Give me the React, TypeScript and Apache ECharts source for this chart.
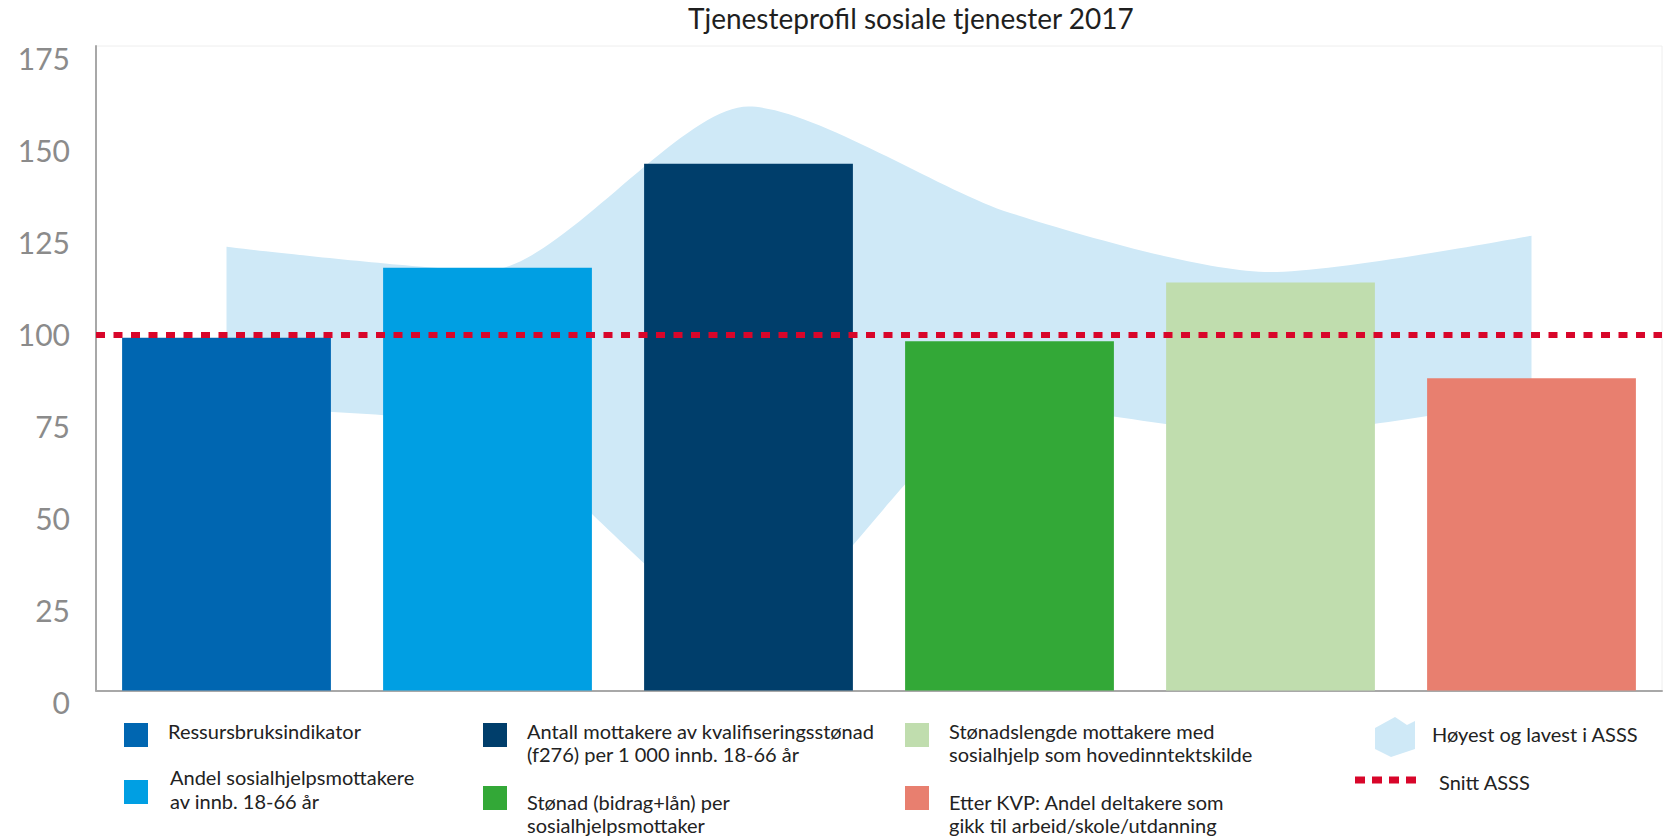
import React, { useEffect, useRef } from 'react';
import * as echarts from 'echarts';

const TITLE = 'Tjenesteprofil sosiale tjenester 2017';
const CATEGORIES = [
  'Ressursbruksindikator',
  'Andel sosialhjelpsmottakere\nav innb. 18-66 år',
  'Antall mottakere av kvalifiseringsstønad\n(f276) per 1 000 innb. 18-66 år',
  'Stønad (bidrag+lån) per\nsosialhjelpsmottaker',
  'Stønadslengde mottakere med\nsosialhjelp som hovedinntektskilde',
  'Etter KVP: Andel deltakere som\ngikk til arbeid/skole/utdanning',
];
const BAR_VALUES = [99.1, 118.7, 147.9, 98.1, 114.6, 87.7];
const BAND_LOW = [79, 72.5, 17, 80, 72, 82];
const BAND_HIGH = [124.6, 118, 164, 134.2, 117.5, 127.7];
const SNITT_ASSS = 100;
const Y_LABEL_MIN = 0;
const Y_LABEL_MAX = 175;
const Y_LABEL_STEP = 25;
const BAND_NAME = 'Høyest og lavest i ASSS';
const SNITT_NAME = 'Snitt ASSS';

const BAR_COLORS = ['#0066b1', '#009fe3', '#003e6b', '#33a837', '#c0ddae', '#e87f6f'];
const BAND_COLOR = '#cfe9f7';
const RED = '#d8062a';
const FONT = 'Lato';
const TEXT_COLOR = '#222222';
const LEGEND_FONT_SIZE = 20;

// legend layout: [boxX, boxY, textX, textCenterY]
const LEGEND_LAYOUT = [
  [124, 723, 168, 731],
  [124, 780, 170, 789],
  [483, 723, 527, 742.5],
  [483, 786, 527, 813.5],
  [905, 723, 949, 742.5],
  [905, 786, 949, 813.5],
];

export default function App() {
  const ref = useRef<HTMLDivElement>(null);
  useEffect(() => {
    if (!ref.current) return;
    const chart = echarts.init(ref.current, undefined, { renderer: 'svg' });

    const barSeries = CATEGORIES.map((name, i) => ({
      type: 'bar',
      name,
      xAxisIndex: 0,
      yAxisIndex: 0,
      barWidth: '80%',
      barGap: '-100%',
      data: BAR_VALUES.map((v, j) => (j === i ? v : null)),
      itemStyle: { color: BAR_COLORS[i] },
      z: 3,
    }));

    const legendGraphics: any[] = [];
    CATEGORIES.forEach((name, i) => {
      const [bx, by, tx, ty] = LEGEND_LAYOUT[i];
      legendGraphics.push({
        type: 'rect',
        shape: { x: bx, y: by, width: 24, height: 24 },
        style: { fill: BAR_COLORS[i] },
      });
      legendGraphics.push({
        type: 'text',
        x: tx,
        y: ty,
        style: {
          text: name,
          fill: TEXT_COLOR,
          fontSize: LEGEND_FONT_SIZE,
          fontFamily: FONT,
          lineHeight: 23.5,
          align: 'left',
          verticalAlign: 'middle',
        },
      });
    });
    legendGraphics.push({
      type: 'polygon',
      shape: {
        points: [
          [1375, 728],
          [1395, 717],
          [1407, 725],
          [1415, 721],
          [1415, 749],
          [1391, 757],
          [1375, 749],
        ],
      },
      style: { fill: BAND_COLOR },
    });
    legendGraphics.push({
      type: 'text',
      x: 1432,
      y: 734,
      style: { text: BAND_NAME, fill: TEXT_COLOR, fontSize: LEGEND_FONT_SIZE, fontFamily: FONT, verticalAlign: 'middle' },
    });
    legendGraphics.push({
      type: 'line',
      shape: { x1: 1355, y1: 780, x2: 1416, y2: 780 },
      style: { stroke: RED, lineWidth: 7, lineDash: [10, 7] },
    });
    legendGraphics.push({
      type: 'text',
      x: 1439,
      y: 782,
      style: { text: SNITT_NAME, fill: TEXT_COLOR, fontSize: LEGEND_FONT_SIZE, fontFamily: FONT, verticalAlign: 'middle' },
    });

    chart.setOption({
      animation: false,
      backgroundColor: '#ffffff',
      title: {
        text: TITLE,
        left: 688,
        top: 4,
        padding: 0,
        textStyle: { fontFamily: FONT, fontSize: 28, fontWeight: 'normal', color: '#1f1f1f' },
      },
      grid: [
        {
          left: 96,
          right: 3,
          top: 46,
          bottom: 145.5,
          show: true,
          borderColor: '#eeeeee',
          borderWidth: 1,
          backgroundColor: 'transparent',
        },
        { left: 96, right: 3, top: 58, bottom: 134 },
      ],
      xAxis: [
        {
          type: 'category',
          gridIndex: 0,
          data: CATEGORIES,
          axisLabel: { show: false },
          axisTick: { show: false },
          axisLine: { lineStyle: { color: '#a8a8a8', width: 2 } },
        },
        { type: 'category', gridIndex: 1, data: CATEGORIES, show: false },
      ],
      yAxis: [
        {
          type: 'value',
          gridIndex: 0,
          min: 0,
          max: 181,
          axisLine: { show: true, lineStyle: { color: '#a8a8a8', width: 2 } },
          axisLabel: { show: false },
          axisTick: { show: false },
          splitLine: { show: false },
        },
        {
          type: 'value',
          gridIndex: 1,
          min: Y_LABEL_MIN,
          max: Y_LABEL_MAX,
          interval: Y_LABEL_STEP,
          axisLine: { show: false },
          axisTick: { show: false },
          splitLine: { show: false },
          axisLabel: { fontSize: 30, color: '#8b8b8b', margin: 26, fontFamily: FONT },
        },
      ],
      series: [
        {
          type: 'line',
          name: 'band-low',
          data: BAND_LOW,
          stack: 'band',
          smooth: 0.25,
          symbol: 'none',
          lineStyle: { width: 0, opacity: 0 },
          silent: true,
          z: 1,
        },
        {
          type: 'line',
          name: BAND_NAME,
          data: BAND_HIGH.map((h, i) => h - BAND_LOW[i]),
          stack: 'band',
          smooth: 0.25,
          symbol: 'none',
          lineStyle: { width: 0, opacity: 0 },
          areaStyle: { color: BAND_COLOR, opacity: 1 },
          silent: true,
          z: 1,
        },
        ...barSeries,
        {
          type: 'line',
          name: SNITT_NAME,
          data: [],
          z: 6,
          markLine: {
            silent: true,
            symbol: ['none', 'none'],
            label: { show: false },
            lineStyle: { color: RED, width: 6, type: [9, 8.5], cap: 'butt' },
            data: [{ yAxis: SNITT_ASSS }],
            z: 6,
          },
        },
      ],
      graphic: legendGraphics,
    });
    return () => chart.dispose();
  }, []);
  return <div ref={ref} style={{ position: 'absolute', left: 0, top: 0, width: 1665, height: 836 }} />;
}
